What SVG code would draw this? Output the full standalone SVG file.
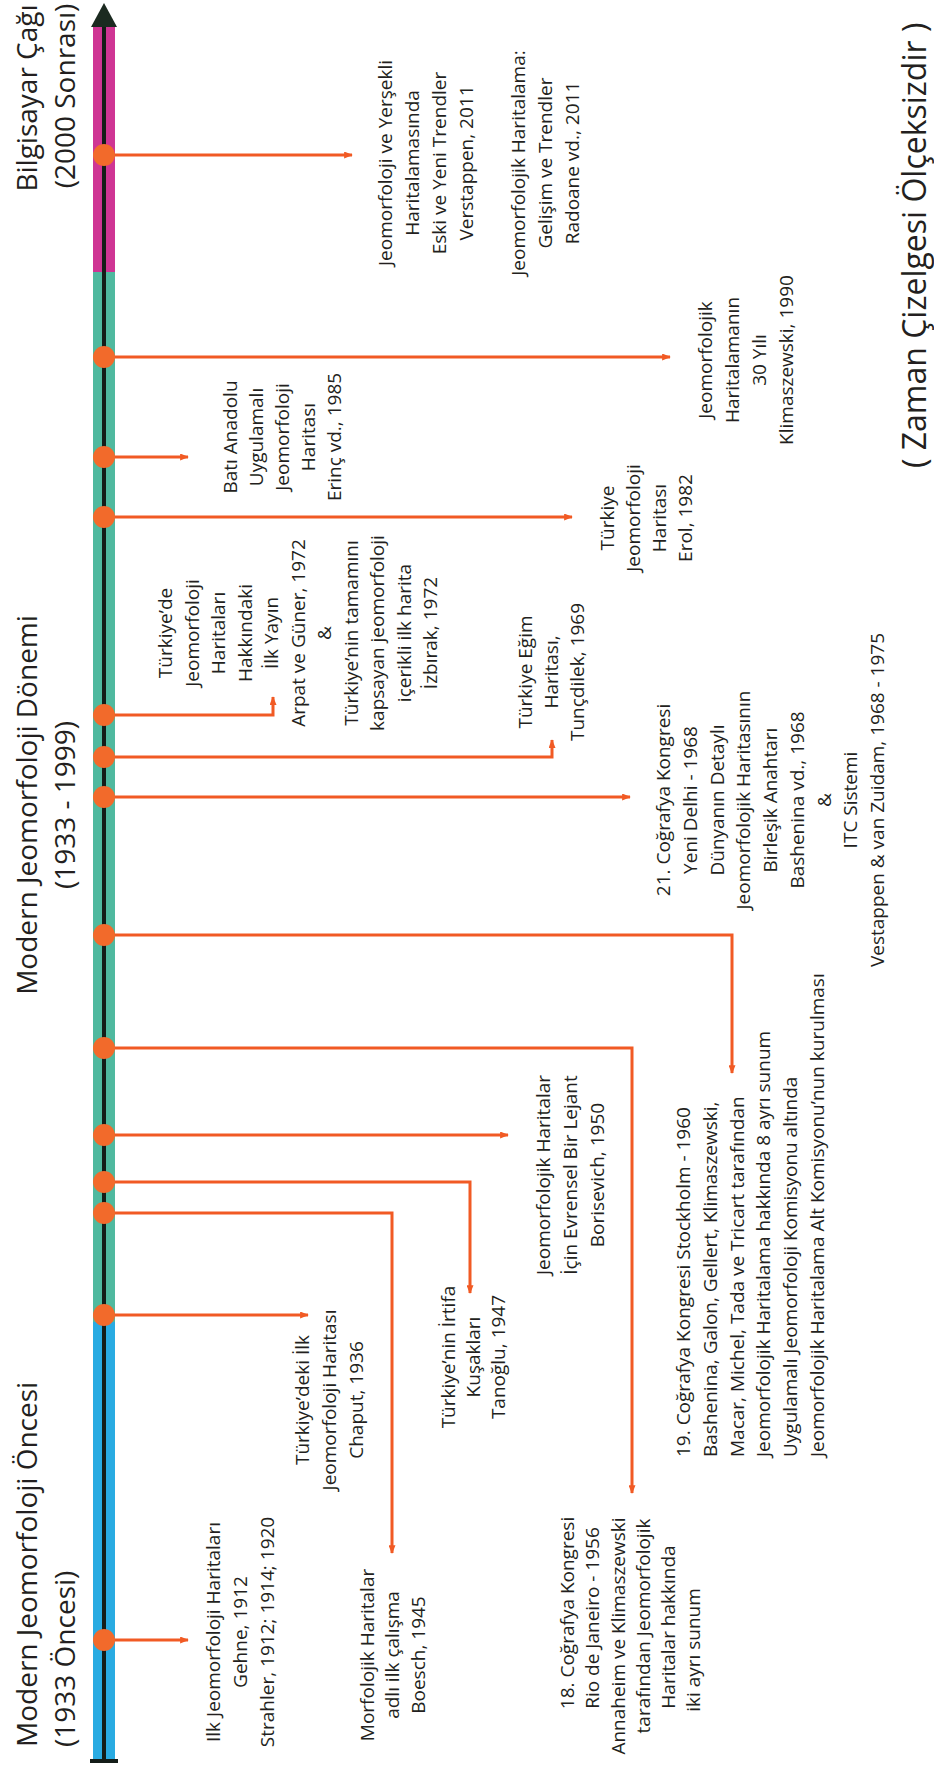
<svg xmlns="http://www.w3.org/2000/svg" width="934" height="1769" viewBox="0 0 934 1769">
<defs>
<marker id="ah" viewBox="0 0 10 8" refX="9" refY="4" markerWidth="9" markerHeight="7" markerUnits="userSpaceOnUse" orient="auto"><path d="M0,0 L10,4 L0,8 z" fill="#f15a24"/></marker>
<style>
.t{font-family:"Open Sans","Noto Sans",sans-serif;font-size:19px;fill:#231f20;text-anchor:middle}
.h{font-size:28px}
.z{font-size:32px}
.s{text-anchor:start}
.c{fill:none;stroke:#f15a24;stroke-width:3;marker-end:url(#ah)}
.dot{fill:#f26a2b}
</style>
</defs>
<rect width="934" height="1769" fill="#ffffff"/>
<g id="timeline">
<rect x="93" y="25" width="22" height="248" fill="#cf3594"/>
<rect x="93" y="272" width="22" height="1051" fill="#4fb99f"/>
<rect x="93" y="1322" width="22" height="437" fill="#29abe2"/>
<line x1="104" y1="20" x2="104" y2="1761" stroke="#141d18" stroke-width="4"/>
<line x1="90" y1="1761" x2="118" y2="1761" stroke="#141d18" stroke-width="4"/>
<polygon points="104,3 91,27 117,27" fill="#1b2a20"/>
</g>
<g id="era-computer" transform="rotate(-90)">
<text class="t h" x="-98" y="37">Bilgisayar Çağı</text>
<text class="t h" x="-96" y="75">(2000 Sonrası)</text>
</g>
<g id="era-modern" transform="rotate(-90)">
<text class="t h" x="-805" y="37">Modern Jeomorfoloji Dönemi</text>
<text class="t h" x="-805" y="75">(1933 - 1999)</text>
</g>
<g id="era-pre" transform="rotate(-90)">
<text class="t h s" x="-1747" y="37">Modern Jeomorfoloji Öncesi</text>
<text class="t h s" x="-1747" y="75">(1933 Öncesi)</text>
</g>
<g id="note" transform="rotate(-90)">
<text class="t z s" x="-468" y="926">( Zaman Çizelgesi Ölçeksizdir )</text>
</g>
<g id="connectors">
<polyline class="c" points="104,155 352,155"/>
<polyline class="c" points="104,357 670,357"/>
<polyline class="c" points="104,457 188,457"/>
<polyline class="c" points="104,517 572,517"/>
<polyline class="c" points="104,715 273,715 273,697"/>
<polyline class="c" points="104,757 552,757 552,740"/>
<polyline class="c" points="104,797 630,797"/>
<polyline class="c" points="104,935 732,935 732,1073"/>
<polyline class="c" points="104,1048 632,1048 632,1493"/>
<polyline class="c" points="104,1135 508,1135"/>
<polyline class="c" points="104,1182 470,1182 470,1293"/>
<polyline class="c" points="104,1213 392,1213 392,1553"/>
<polyline class="c" points="104,1315 308,1315"/>
<polyline class="c" points="104,1640 188,1640"/>
</g>
<g id="e2011">
<circle class="dot" cx="104" cy="155" r="11"/>
<g transform="rotate(-90)">
<text class="t" x="-163" y="392">Jeomorfoloji ve Yerşekli</text>
<text class="t" x="-163" y="419">Haritalamasında</text>
<text class="t" x="-163" y="446">Eski ve Yeni Trendler</text>
<text class="t" x="-163" y="473">Verstappen, 2011</text>
<text class="t" x="-163" y="525">Jeomorfolojik Haritalama:</text>
<text class="t" x="-163" y="552">Gelişim ve Trendler</text>
<text class="t" x="-163" y="579">Radoane vd., 2011</text>
</g>
</g>
<g id="e1990">
<circle class="dot" cx="104" cy="357" r="11"/>
<g transform="rotate(-90)">
<text class="t" x="-360" y="712">Jeomorfolojik</text>
<text class="t" x="-360" y="739">Haritalamanın</text>
<text class="t" x="-360" y="766">30 Yılı</text>
<text class="t" x="-360" y="793">Klimaszewski, 1990</text>
</g>
</g>
<g id="e1985">
<circle class="dot" cx="104" cy="457" r="11"/>
<g transform="rotate(-90)">
<text class="t" x="-437" y="237">Batı Anadolu</text>
<text class="t" x="-437" y="263">Uygulamalı</text>
<text class="t" x="-437" y="289">Jeomorfoloji</text>
<text class="t" x="-437" y="315">Haritası</text>
<text class="t" x="-437" y="341">Erinç vd., 1985</text>
</g>
</g>
<g id="e1982">
<circle class="dot" cx="104" cy="517" r="11"/>
<g transform="rotate(-90)">
<text class="t" x="-518" y="614">Türkiye</text>
<text class="t" x="-518" y="640">Jeomorfoloji</text>
<text class="t" x="-518" y="666">Haritası</text>
<text class="t" x="-518" y="692">Erol, 1982</text>
</g>
</g>
<g id="e1972">
<circle class="dot" cx="104" cy="715" r="11"/>
<g transform="rotate(-90)">
<text class="t" x="-633" y="172">Türkiye’de</text>
<text class="t" x="-633" y="198.5">Jeomorfoloji</text>
<text class="t" x="-633" y="225">Haritaları</text>
<text class="t" x="-633" y="251.5">Hakkındaki</text>
<text class="t" x="-633" y="278">İlk Yayın</text>
<text class="t" x="-633" y="304.5">Arpat ve Güner, 1972</text>
<text class="t" x="-633" y="331">&amp;</text>
<text class="t" x="-633" y="357.5">Türkiye’nin tamamını</text>
<text class="t" x="-633" y="384">kapsayan jeomorfoloji</text>
<text class="t" x="-633" y="410.5">içerikli ilk harita</text>
<text class="t" x="-633" y="437">İzbırak, 1972</text>
</g>
</g>
<g id="e1969">
<circle class="dot" cx="104" cy="757" r="11"/>
<g transform="rotate(-90)">
<text class="t" x="-672" y="532">Türkiye Eğim</text>
<text class="t" x="-672" y="558">Haritası,</text>
<text class="t" x="-672" y="584">Tunçdilek, 1969</text>
</g>
</g>
<g id="e1968">
<circle class="dot" cx="104" cy="797" r="11"/>
<g transform="rotate(-90)">
<text class="t" x="-800" y="670">21. Coğrafya Kongresi</text>
<text class="t" x="-800" y="696.75">Yeni Delhi - 1968</text>
<text class="t" x="-800" y="723.5">Dünyanın Detaylı</text>
<text class="t" x="-800" y="750.25">Jeomorfolojik Haritasının</text>
<text class="t" x="-800" y="777">Birleşik Anahtarı</text>
<text class="t" x="-800" y="803.75">Bashenina vd., 1968</text>
<text class="t" x="-800" y="830.5">&amp;</text>
<text class="t" x="-800" y="857.25">ITC Sistemi</text>
<text class="t" x="-800" y="884">Vestappen &amp; van Zuidam, 1968 - 1975</text>
</g>
</g>
<g id="e1960">
<circle class="dot" cx="104" cy="935" r="11"/>
<g transform="rotate(-90)">
<text class="t s" x="-1457" y="690">19. Coğrafya Kongresi Stockholm - 1960</text>
<text class="t s" x="-1457" y="717">Bashenina, Galon, Gellert, Klimaszewski,</text>
<text class="t s" x="-1457" y="744">Macar, Michel, Tada ve Tricart tarafından</text>
<text class="t s" x="-1457" y="770">Jeomorfolojik Haritalama hakkında 8 ayrı sunum</text>
<text class="t s" x="-1457" y="797">Uygulamalı Jeomorfoloji Komisyonu altında</text>
<text class="t s" x="-1457" y="824">Jeomorfolojik Haritalama Alt Komisyonu’nun kurulması</text>
</g>
</g>
<g id="e1956">
<circle class="dot" cx="104" cy="1048" r="11"/>
<g transform="rotate(-90)">
<text class="t" x="-1613" y="574">18. Coğrafya Kongresi</text>
<text class="t" x="-1618" y="599">Rio de Janeiro - 1956</text>
<text class="t" x="-1636" y="625">Annaheim ve Klimaszewski</text>
<text class="t" x="-1626" y="650">tarafından Jeomorfolojik</text>
<text class="t" x="-1627" y="675">Haritalar hakkında</text>
<text class="t" x="-1650" y="700">iki ayrı sunum</text>
</g>
</g>
<g id="e1950">
<circle class="dot" cx="104" cy="1135" r="11"/>
<g transform="rotate(-90)">
<text class="t" x="-1175" y="550">Jeomorfolojik Haritalar</text>
<text class="t" x="-1175" y="577">İçin Evrensel Bir Lejant</text>
<text class="t" x="-1175" y="604">Borisevich, 1950</text>
</g>
</g>
<g id="e1947">
<circle class="dot" cx="104" cy="1182" r="11"/>
<g transform="rotate(-90)">
<text class="t" x="-1357" y="455">Türkiye’nin İrtifa</text>
<text class="t" x="-1357" y="480">Kuşakları</text>
<text class="t" x="-1357" y="505">Tanoğlu, 1947</text>
</g>
</g>
<g id="e1945">
<circle class="dot" cx="104" cy="1213" r="11"/>
<g transform="rotate(-90)">
<text class="t" x="-1655" y="374">Morfolojik Haritalar</text>
<text class="t" x="-1655" y="399">adlı ilk çalışma</text>
<text class="t" x="-1655" y="425">Boesch, 1945</text>
</g>
</g>
<g id="e1936">
<circle class="dot" cx="104" cy="1315" r="11"/>
<g transform="rotate(-90)">
<text class="t" x="-1400" y="309">Türkiye’deki İlk</text>
<text class="t" x="-1400" y="336">Jeomorfoloji Haritası</text>
<text class="t" x="-1400" y="363">Chaput, 1936</text>
</g>
</g>
<g id="e1912">
<circle class="dot" cx="104" cy="1640" r="11"/>
<g transform="rotate(-90)">
<text class="t" x="-1632" y="220">Ilk Jeomorfoloji Haritaları</text>
<text class="t" x="-1632" y="247">Gehne, 1912</text>
<text class="t" x="-1632" y="274">Strahler, 1912; 1914; 1920</text>
</g>
</g>
</svg>
